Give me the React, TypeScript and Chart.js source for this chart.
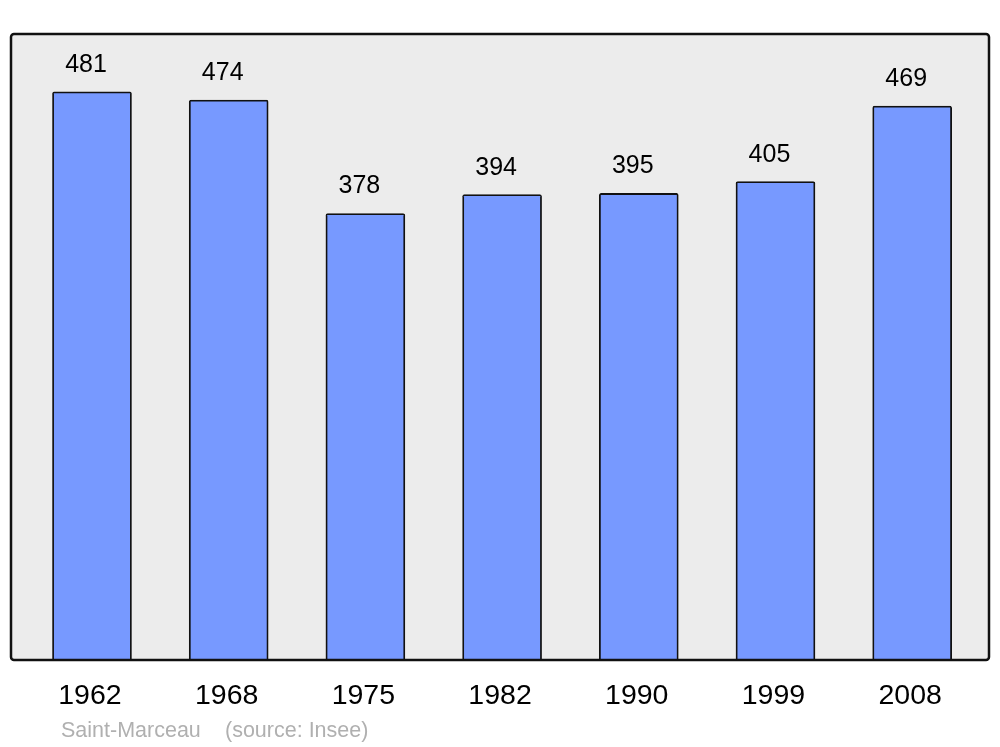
import React, { useEffect, useRef } from "react";
import { Chart, registerables } from "chart.js";

Chart.register(...registerables);

const years = ["1962", "1968", "1975", "1982", "1990", "1999", "2008"];
const population = [481, 474, 378, 394, 395, 405, 469];
const footerPlace = "Saint-Marceau";
const footerSource = "(source: Insee)";

const FONT = "'Liberation Sans', Arial, sans-serif";

const framePlugin = {
  id: "frame",
  beforeDraw(chart: any) {
    const { ctx, chartArea: a } = chart;
    ctx.save();
    ctx.beginPath();
    ctx.roundRect(a.left, a.top, a.right - a.left, a.bottom - a.top, 3);
    ctx.fillStyle = "#ececec";
    ctx.fill();
    ctx.restore();
  },
  afterDatasetsDraw(chart: any) {
    const { ctx, chartArea: a } = chart;
    ctx.save();
    ctx.beginPath();
    ctx.roundRect(a.left, a.top, a.right - a.left, a.bottom - a.top, 3);
    ctx.lineWidth = 2.5;
    ctx.strokeStyle = "#111";
    ctx.stroke();
    // value labels
    const meta = chart.getDatasetMeta(0);
    ctx.fillStyle = "#000";
    ctx.font = `25px ${FONT}`;
    ctx.textAlign = "center";
    ctx.textBaseline = "middle";
    meta.data.forEach((bar: any, i: number) => {
      ctx.fillText(String(population[i]), bar.x - 6, bar.y - 27);
    });
    // footer
    ctx.fillStyle = "#b0b0b0";
    ctx.font = `21.5px ${FONT}`;
    ctx.textAlign = "left";
    ctx.fillText(footerPlace, 61, 731);
    ctx.fillText(footerSource, 225, 731);
    ctx.restore();
  },
};

export default function App() {
  const ref = useRef<HTMLCanvasElement>(null);
  useEffect(() => {
    document.body.style.margin = "0";
    const chart = new Chart(ref.current!, {
      type: "bar",
      data: {
        datasets: [
          {
            data: population.map((v, i) => ({ x: i, y: v })),
            backgroundColor: "#7799ff",
            borderColor: "#111",
            borderWidth: 1.8,
            borderRadius: 2,
            borderSkipped: "bottom",
            barThickness: 79,
          },
        ],
      },
      options: {
        animation: false,
        responsive: false,
        layout: { padding: { left: 11, right: 11, top: 34, bottom: 0 } },
        plugins: { legend: { display: false }, tooltip: { enabled: false } },
        scales: {
          x: {
            type: "linear",
            offset: false,
            min: -0.5925,
            max: 6.562,
            grid: { display: false, drawTicks: false },
            border: { display: false },
            afterBuildTicks: (s: any) => {
              s.ticks = years.map((_, i) => ({ value: i - 0.015 }));
            },
            afterFit: (s: any) => {
              s.height = 87;
            },
            ticks: {
              padding: 19,
              color: "#000",
              font: { size: 28.5, family: FONT },
              callback: (v: any) => years[Math.round(v)] ?? "",
              maxRotation: 0,
              autoSkip: false,
            },
          },
          y: {
            display: false,
            min: 0,
            max: 530,
          },
        },
      },
      plugins: [framePlugin],
    } as any);
    return () => chart.destroy();
  }, []);
  return <canvas ref={ref} width={1000} height={747} style={{ display: "block" }} />;
}
